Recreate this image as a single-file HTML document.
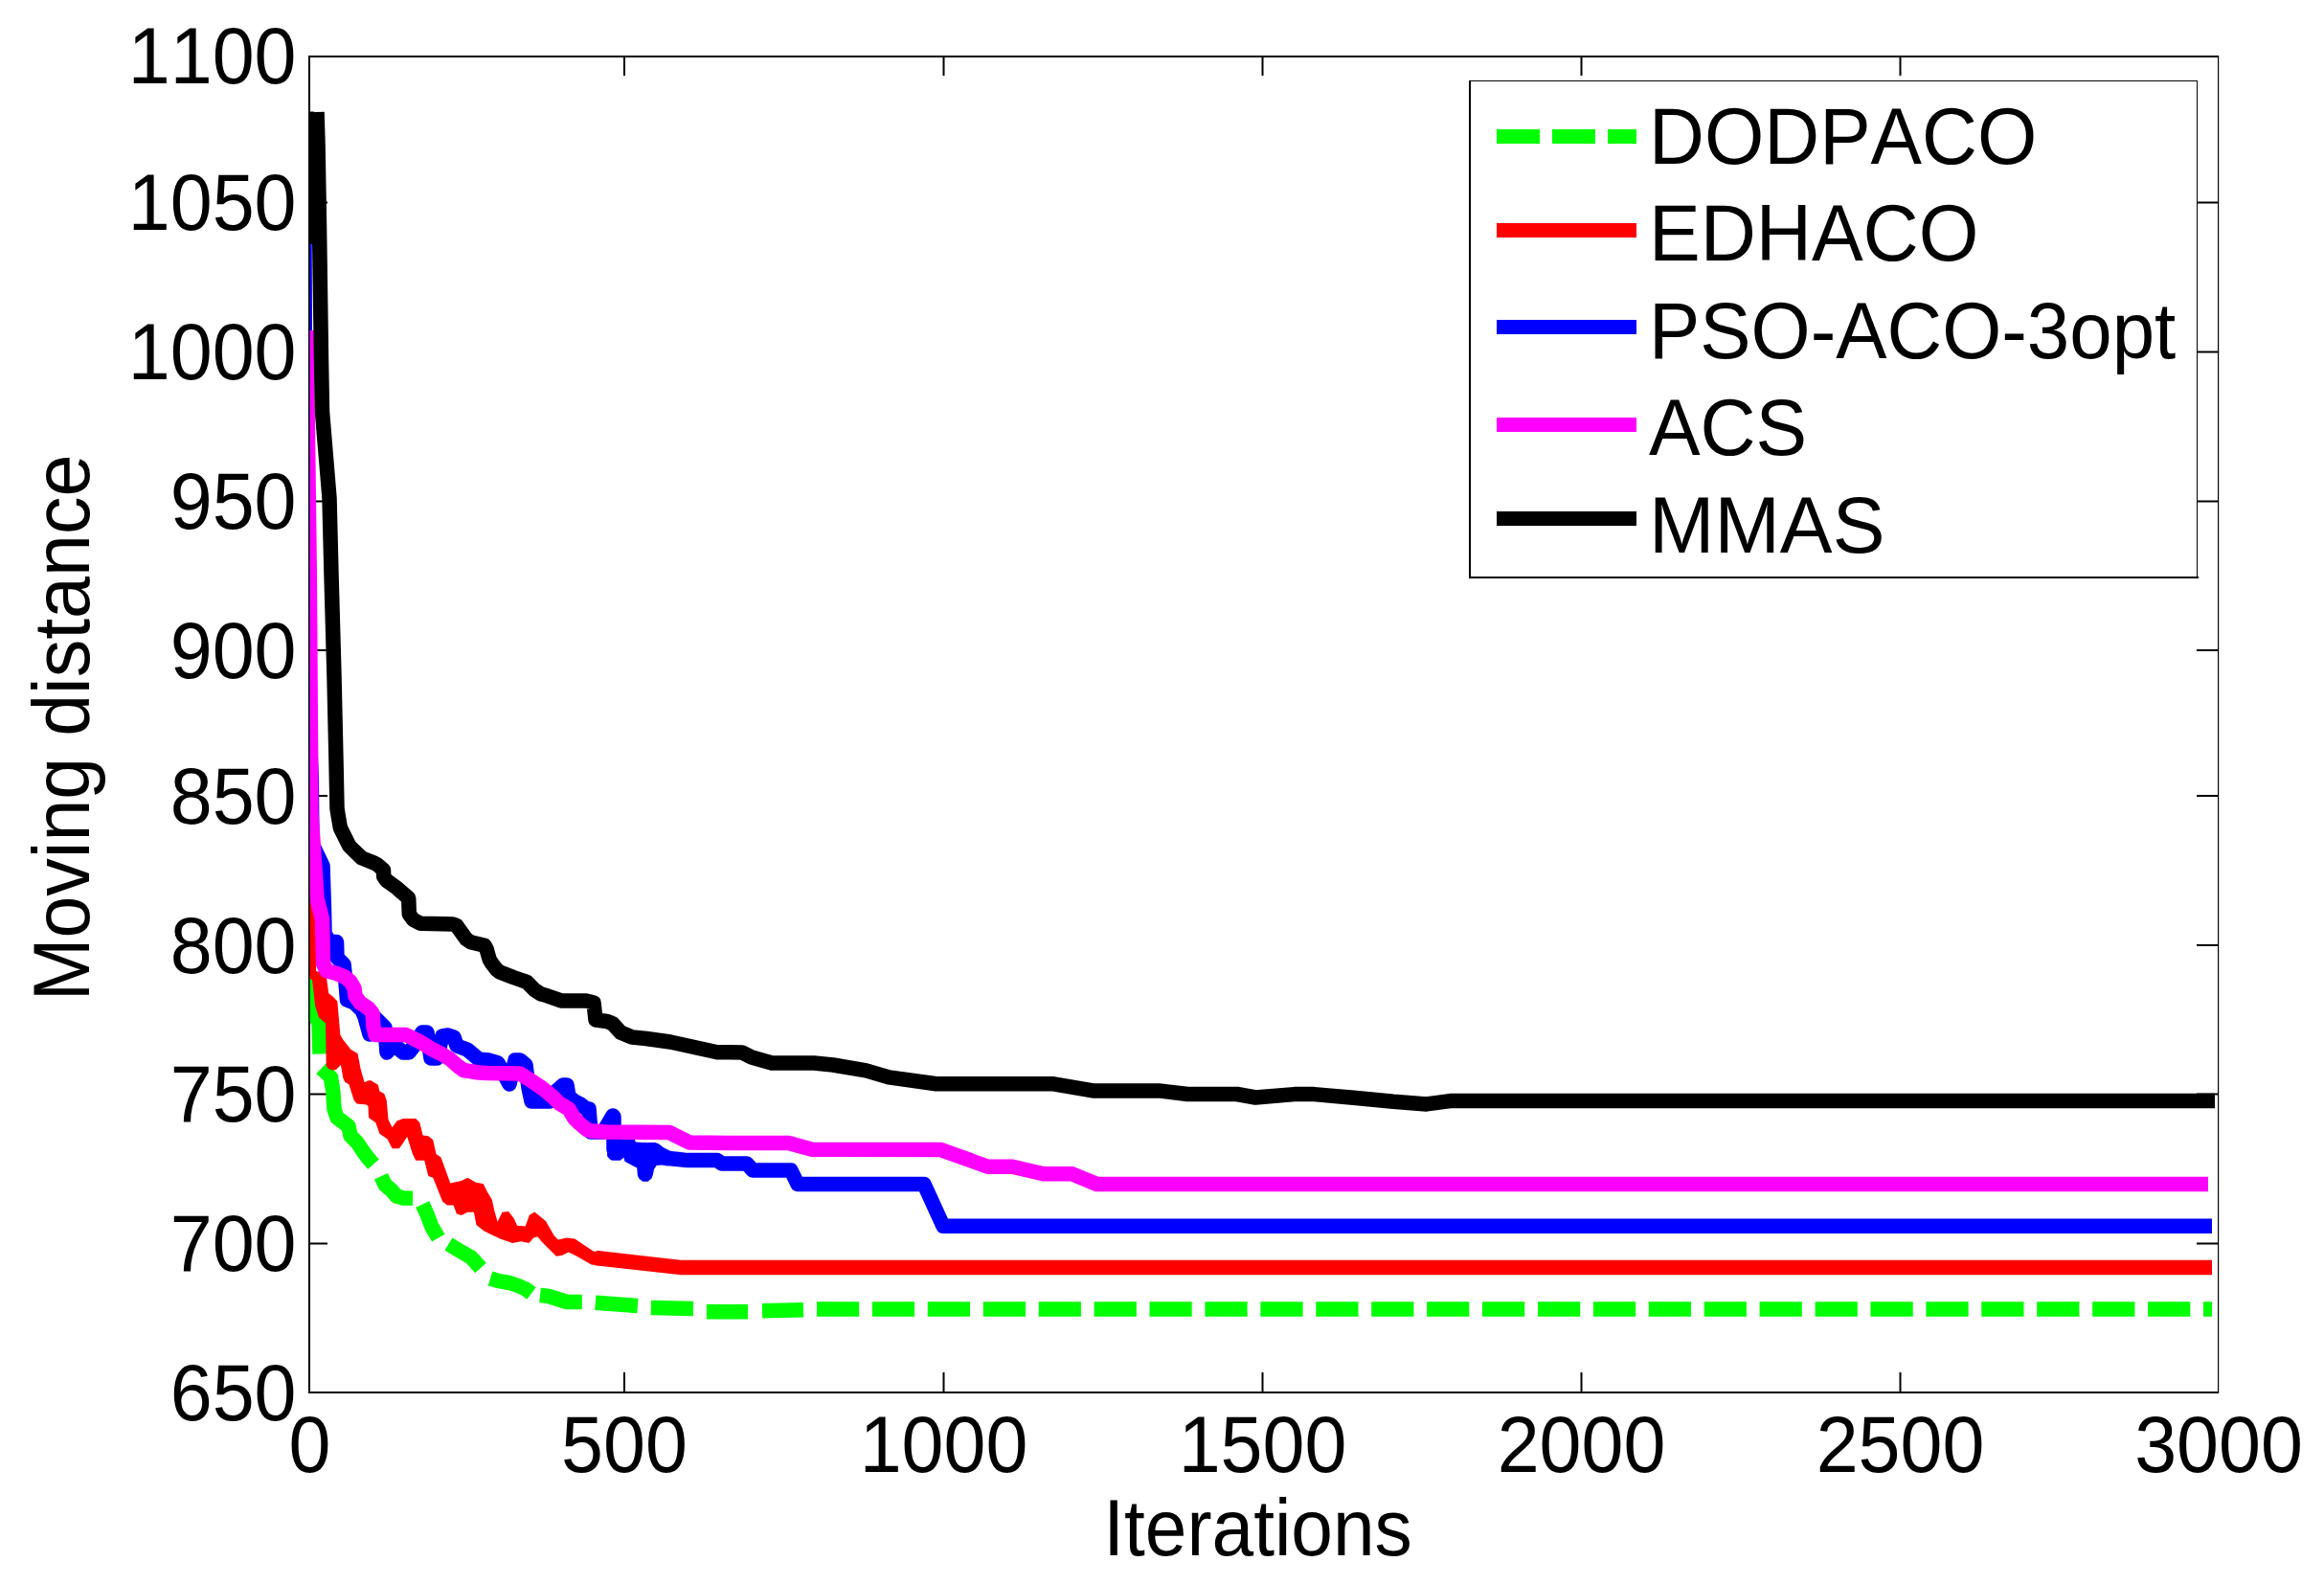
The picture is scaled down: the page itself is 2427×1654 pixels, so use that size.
<!DOCTYPE html>
<html><head><meta charset="utf-8"><title>Convergence plot</title>
<style>html,body{margin:0;padding:0;background:#fff;} svg{display:block;} text{font-family:'Liberation Sans',sans-serif;font-kerning:none;fill:#000;}</style>
</head><body>
<svg width="2427" height="1654" viewBox="0 0 2427 1654">
<rect x="0" y="0" width="2427" height="1654" fill="#fff"/>
<defs><clipPath id="ax"><rect x="323.6" y="60" width="1992.4" height="1393"/></clipPath></defs>

<g fill="#000">
<rect x="322" y="58" width="1995" height="2"/>
<rect x="322" y="1453" width="1995" height="2"/>
<rect x="322" y="58" width="2" height="1397"/>
<rect x="2316" y="58" width="1.2" height="1397"/>
<rect x="651.0" y="60" width="2" height="19"/>
<rect x="651.0" y="1433" width="2" height="20"/>
<rect x="984.5" y="60" width="2" height="19"/>
<rect x="984.5" y="1433" width="2" height="20"/>
<rect x="1317.5" y="60" width="2" height="19"/>
<rect x="1317.5" y="1433" width="2" height="20"/>
<rect x="1650.5" y="60" width="2" height="19"/>
<rect x="1650.5" y="1433" width="2" height="20"/>
<rect x="1983.5" y="60" width="2" height="19"/>
<rect x="1983.5" y="1433" width="2" height="20"/>
<rect x="324" y="210.5" width="18" height="2"/>
<rect x="2294" y="210.5" width="22" height="2"/>
<rect x="324" y="366.5" width="18" height="2"/>
<rect x="2294" y="366.5" width="22" height="2"/>
<rect x="324" y="522.5" width="18" height="2"/>
<rect x="2294" y="522.5" width="22" height="2"/>
<rect x="324" y="678.0" width="18" height="2"/>
<rect x="2294" y="678.0" width="22" height="2"/>
<rect x="324" y="830.0" width="18" height="2"/>
<rect x="2294" y="830.0" width="22" height="2"/>
<rect x="324" y="986.0" width="18" height="2"/>
<rect x="2294" y="986.0" width="22" height="2"/>
<rect x="324" y="1141.5" width="18" height="2"/>
<rect x="2294" y="1141.5" width="22" height="2"/>
<rect x="324" y="1297.5" width="18" height="2"/>
<rect x="2294" y="1297.5" width="22" height="2"/>
</g>
<g clip-path="url(#ax)" fill="none" stroke-width="15.5" stroke-linejoin="round" stroke-linecap="butt">
<polyline points="319.7,1019.5 326.0,1055.0 333.0,1068.0 334.0,1100.5" stroke="#00ff00"/>
<polyline points="335.6,1115.5 345.5,1125.0 347.8,1140.0 349.0,1158.0 352.0,1167.0 364.0,1176.0 366.0,1186.0 373.0,1193.0 379.0,1202.0 385.0,1210.0 390.0,1215.7" stroke="#00ff00"/>
<polyline points="397.9,1228.3 402.0,1237.0 409.0,1243.0 414.0,1249.0 421.0,1251.0 431.0,1251.2" stroke="#00ff00"/>
<polyline points="441.2,1257.5 446.0,1268.0 451.0,1281.0 457.8,1292.7" stroke="#00ff00"/>
<polyline points="468.5,1299.0 480.0,1306.0 492.0,1313.0 502.0,1324.0" stroke="#00ff00"/>
<polyline points="512.0,1335.0 521.0,1337.7 532.0,1339.5 541.0,1342.5 549.0,1346.0 555.0,1350.5" stroke="#00ff00"/>
<polyline points="564.0,1352.5 573.0,1353.5 592.0,1359.5 607.8,1359.5" stroke="#00ff00"/>
<polyline points="621.8,1360.2 665.9,1363.4" stroke="#00ff00"/>
<polyline points="679.8,1365.5 724.0,1366.6" stroke="#00ff00"/>
<polyline points="737.9,1369.8 781.0,1369.8" stroke="#00ff00"/>
<polyline points="796.0,1368.8 839.0,1367.7" stroke="#00ff00"/>
<polyline points="853.0,1367.0 897.2,1367.0" stroke="#00ff00"/>
<polyline points="910.9,1367.0 955.1,1367.0" stroke="#00ff00"/>
<polyline points="968.8,1367.0 1013.0,1367.0" stroke="#00ff00"/>
<polyline points="1026.8,1367.0 1071.0,1367.0" stroke="#00ff00"/>
<polyline points="1084.7,1367.0 1128.9,1367.0" stroke="#00ff00"/>
<polyline points="1142.6,1367.0 1186.8,1367.0" stroke="#00ff00"/>
<polyline points="1200.5,1367.0 1244.7,1367.0" stroke="#00ff00"/>
<polyline points="1258.4,1367.0 1302.6,1367.0" stroke="#00ff00"/>
<polyline points="1316.4,1367.0 1360.6,1367.0" stroke="#00ff00"/>
<polyline points="1374.3,1367.0 1418.5,1367.0" stroke="#00ff00"/>
<polyline points="1432.2,1367.0 1476.4,1367.0" stroke="#00ff00"/>
<polyline points="1490.1,1367.0 1534.3,1367.0" stroke="#00ff00"/>
<polyline points="1548.0,1367.0 1592.2,1367.0" stroke="#00ff00"/>
<polyline points="1606.0,1367.0 1650.2,1367.0" stroke="#00ff00"/>
<polyline points="1663.9,1367.0 1708.1,1367.0" stroke="#00ff00"/>
<polyline points="1721.8,1367.0 1766.0,1367.0" stroke="#00ff00"/>
<polyline points="1779.7,1367.0 1823.9,1367.0" stroke="#00ff00"/>
<polyline points="1837.6,1367.0 1881.8,1367.0" stroke="#00ff00"/>
<polyline points="1895.6,1367.0 1939.8,1367.0" stroke="#00ff00"/>
<polyline points="1953.5,1367.0 1997.7,1367.0" stroke="#00ff00"/>
<polyline points="2011.4,1367.0 2055.6,1367.0" stroke="#00ff00"/>
<polyline points="2069.3,1367.0 2113.5,1367.0" stroke="#00ff00"/>
<polyline points="2127.2,1367.0 2171.4,1367.0" stroke="#00ff00"/>
<polyline points="2185.2,1367.0 2229.4,1367.0" stroke="#00ff00"/>
<polyline points="2243.1,1367.0 2287.3,1367.0" stroke="#00ff00"/>
<polyline points="2301.0,1367.0 2310.0,1367.0" stroke="#00ff00"/>
<polyline points="622.0,1313.5 712.1,1323.6 2310.0,1323.6" stroke="#ff0000"/>
<polygon points="318.0,942.0 330.0,942.0 330.0,1014.0 338.0,1016.0 341.2,1022.0 343.2,1037.3 347.3,1040.3 352.3,1045.4 355.4,1080.7 358.4,1085.8 366.5,1095.9 373.5,1099.9 376.6,1116.0 380.6,1130.2 384.6,1128.2 387.4,1128.2 394.8,1132.8 396.4,1139.4 401.3,1141.9 403.8,1149.3 405.5,1169.0 409.6,1177.2 414.5,1170.6 421.0,1168.1 434.2,1168.1 438.3,1172.2 441.6,1185.4 447.3,1186.2 452.2,1190.3 455.5,1205.1 460.5,1208.4 470.3,1235.5 481.8,1233.0 488.4,1229.7 496.6,1234.6 504.8,1236.3 508.9,1244.5 513.8,1252.7 516.3,1264.2 519.6,1275.7 524.5,1265.8 531.1,1265.0 536.8,1272.4 540.1,1279.8 548.6,1280.6 552.9,1268.7 558.3,1265.5 570.1,1275.2 578.7,1290.2 583.0,1294.5 591.6,1292.4 600.2,1293.5 619.6,1306.4 626.0,1307.5 626.0,1321.5 617.5,1320.4 602.4,1311.8 593.8,1307.5 587.3,1310.7 580.9,1311.8 565.8,1296.7 561.5,1291.3 557.2,1292.4 552.4,1297.9 544.2,1296.2 535.2,1297.9 522.9,1293.8 505.6,1285.5 497.4,1279.0 494.9,1265.8 488.4,1265.8 481.8,1269.1 476.9,1267.5 473.6,1258.5 467.0,1258.5 462.1,1254.4 452.2,1229.7 447.3,1228.1 443.2,1211.7 434.2,1211.7 430.9,1205.1 425.2,1187.0 421.0,1193.6 416.9,1199.3 409.6,1199.3 404.6,1189.5 396.4,1183.7 392.3,1172.2 385.0,1167.0 384.5,1155.0 382.6,1153.4 372.5,1152.4 369.5,1148.4 364.4,1132.2 360.4,1130.0 358.4,1126.0 355.9,1112.0 351.0,1117.0 347.3,1117.6 343.0,1116.0 340.7,1113.0 340.0,1068.6 333.0,1062.5 329.0,1050.0 326.0,1023.0 318.0,1020.0" fill="#ff0000" stroke="none"/>
<polyline points="318.0,255.0 319.0,600.0 323.0,760.0 325.3,813.0 325.6,850.0 326.0,881.0 337.0,904.0 338.5,950.0 339.0,975.0 344.0,983.5 351.5,983.5 352.0,1000.0 359.0,1007.0 360.5,1020.0 362.5,1044.0 370.0,1047.0 378.0,1055.0 381.0,1062.0 386.0,1080.0 392.0,1063.0 402.0,1073.0 404.0,1099.0 409.0,1093.0 414.0,1093.0 421.0,1099.0 427.0,1099.0 434.0,1090.0 441.0,1078.0 446.0,1078.0 450.0,1105.0 456.0,1105.0 462.0,1082.0 468.0,1081.0 474.0,1083.0 477.0,1092.0 488.0,1096.0 500.0,1106.0 510.0,1107.0 520.0,1110.0 532.0,1132.0 538.0,1107.0 543.0,1107.0 549.0,1112.0 552.0,1136.0 555.0,1150.0 574.0,1150.0 580.0,1140.0 588.0,1133.0 592.0,1133.0 594.0,1145.0 600.0,1150.0 606.0,1153.0 612.0,1157.5 615.0,1158.0 617.0,1182.0 630.0,1182.0 640.0,1165.0 641.0,1166.0 641.0,1200.0 660.0,1200.0 674.0,1201.0 684.0,1201.0 689.0,1205.0 698.0,1209.5 708.0,1210.5 718.0,1211.6 749.0,1211.6 754.0,1215.0 780.0,1215.0 786.0,1222.0 826.0,1222.0 833.0,1236.5 965.0,1236.5 985.0,1280.3 2310.0,1280.3" stroke="#0000ff"/>
<polygon points="634.1,1189.8 662.9,1189.8 664.4,1194.4 667.4,1192.9 673.5,1192.9 675.8,1194.0 678.0,1192.9 684.1,1192.9 687.9,1196.7 689.0,1200.8 697.7,1201.2 697.7,1217.5 690.9,1216.4 685.6,1217.1 683.0,1220.9 681.8,1227.0 680.3,1230.8 676.5,1233.8 671.2,1233.8 667.4,1230.8 665.9,1227.7 665.2,1219.4 656.1,1214.8 652.3,1212.6 651.5,1208.8 647.7,1211.8 639.4,1211.8 637.1,1210.7 634.1,1207.3" fill="#0000ff" stroke="none"/>
<polyline points="320.0,345.0 320.5,380.0 323.3,600.0 325.0,850.0 331.0,938.0 336.5,960.0 337.5,1006.0 341.0,1013.7 350.0,1016.0 360.0,1020.0 366.0,1025.0 370.0,1032.0 371.0,1040.0 376.0,1047.0 385.0,1053.0 389.0,1058.0 390.0,1072.0 392.0,1080.6 424.0,1080.6 440.0,1088.5 450.0,1095.0 462.0,1101.0 470.0,1106.0 478.0,1113.0 484.0,1117.5 500.0,1120.0 508.0,1120.5 543.0,1121.0 554.0,1128.0 566.0,1136.0 577.0,1145.0 584.0,1152.0 594.0,1158.0 600.0,1168.0 604.0,1172.0 608.0,1175.5 613.0,1179.6 618.0,1181.0 626.0,1181.6 633.0,1182.0 699.0,1182.5 720.0,1193.0 760.0,1193.5 823.5,1193.5 848.0,1200.2 982.0,1200.4 1031.5,1218.2 1057.3,1218.2 1089.6,1225.8 1119.7,1225.8 1145.5,1236.5 2306.0,1236.5" stroke="#ff00ff"/>
<polyline points="331.0,117.0 332.0,150.0 333.5,236.0 335.5,376.0 336.5,430.0 344.0,520.0 346.0,600.0 349.0,707.0 351.0,795.0 352.0,844.0 352.9,850.0 355.4,864.5 364.9,883.5 377.7,895.9 389.8,900.7 394.0,902.9 400.5,908.4 400.7,915.2 403.6,919.4 414.6,927.3 426.7,937.9 427.3,954.5 431.5,960.3 439.4,964.3 472.8,965.0 476.8,966.5 487.0,980.7 491.4,983.7 506.0,987.3 508.2,991.3 511.2,1002.0 513.9,1006.3 518.9,1012.7 521.9,1015.0 536.0,1020.5 550.0,1025.3 558.0,1033.4 565.0,1038.0 569.0,1039.0 586.0,1044.9 612.0,1045.0 620.0,1047.0 622.0,1065.0 634.0,1066.5 640.0,1069.0 648.0,1078.0 660.0,1083.0 675.0,1084.5 700.0,1088.0 749.0,1098.7 775.0,1099.0 785.0,1104.0 806.0,1110.0 850.0,1110.0 870.0,1112.0 904.5,1117.8 928.2,1124.9 977.7,1131.8 1100.3,1131.8 1141.2,1138.9 1210.0,1138.9 1240.2,1142.5 1291.8,1142.5 1311.2,1146.0 1351.6,1142.6 1372.3,1142.6 1416.2,1146.5 1455.0,1150.3 1489.8,1152.9 1514.3,1149.6 2313.0,1149.6" stroke="#000000"/>
<polyline points="320.0,116.5 320.0,255.0" stroke="#000000"/>
</g>
<text transform="translate(309.5,87.3) scale(1.0,1.05)" text-anchor="end" style="font-size:79px">1100</text>
<text transform="translate(309.5,240.3) scale(1.0,1.05)" text-anchor="end" style="font-size:79px">1050</text>
<text transform="translate(309.5,396.3) scale(1.0,1.05)" text-anchor="end" style="font-size:79px">1000</text>
<text transform="translate(309.5,552.3) scale(1.0,1.05)" text-anchor="end" style="font-size:79px">950</text>
<text transform="translate(309.5,707.8) scale(1.0,1.05)" text-anchor="end" style="font-size:79px">900</text>
<text transform="translate(309.5,859.8) scale(1.0,1.05)" text-anchor="end" style="font-size:79px">850</text>
<text transform="translate(309.5,1015.8) scale(1.0,1.05)" text-anchor="end" style="font-size:79px">800</text>
<text transform="translate(309.5,1171.3) scale(1.0,1.05)" text-anchor="end" style="font-size:79px">750</text>
<text transform="translate(309.5,1327.3) scale(1.0,1.05)" text-anchor="end" style="font-size:79px">700</text>
<text transform="translate(309.5,1482.8) scale(1.0,1.05)" text-anchor="end" style="font-size:79px">650</text>
<text transform="translate(323.5,1537.0) scale(1.0,1.05)" text-anchor="middle" style="font-size:79px">0</text>
<text transform="translate(652.0,1537.0) scale(1.0,1.05)" text-anchor="middle" style="font-size:79px">500</text>
<text transform="translate(985.5,1537.0) scale(1.0,1.05)" text-anchor="middle" style="font-size:79px">1000</text>
<text transform="translate(1318.5,1537.0) scale(1.0,1.05)" text-anchor="middle" style="font-size:79px">1500</text>
<text transform="translate(1651.5,1537.0) scale(1.0,1.05)" text-anchor="middle" style="font-size:79px">2000</text>
<text transform="translate(1984.5,1537.0) scale(1.0,1.05)" text-anchor="middle" style="font-size:79px">2500</text>
<text transform="translate(2317.0,1537.0) scale(1.0,1.05)" text-anchor="middle" style="font-size:79px">3000</text>
<text transform="translate(1313.5,1624.0) scale(0.993,1.05)" text-anchor="middle" style="font-size:79px">Iterations</text>
<text transform="translate(93.0,760.0) rotate(-90) scale(1.0,1.05)" text-anchor="middle" style="font-size:79px">Moving distance</text>
<rect x="1535" y="85" width="759" height="517" fill="#fff"/>
<g fill="#000">
<rect x="1534" y="84" width="761" height="1"/>
<rect x="1534" y="602" width="762" height="2"/>
<rect x="1534" y="84" width="2" height="520"/>
<rect x="2294" y="84" width="1" height="520"/>
</g>
<rect x="1563" y="135.0" width="45" height="15" fill="#00ff00"/>
<rect x="1621" y="135.0" width="45" height="15" fill="#00ff00"/>
<rect x="1679" y="135.0" width="30" height="15" fill="#00ff00"/>
<text transform="translate(1722.0,171.0) scale(1.015,1.05)" text-anchor="start" style="font-size:79px">DODPACO</text>
<rect x="1563" y="233.0" width="146" height="15" fill="#ff0000"/>
<text transform="translate(1722.0,272.0) scale(1.019,1.05)" text-anchor="start" style="font-size:79px">EDHACO</text>
<rect x="1563" y="334.0" width="146" height="15" fill="#0000ff"/>
<text transform="translate(1722.0,374.0) scale(1.011,1.05)" text-anchor="start" style="font-size:79px">PSO-ACO-3opt</text>
<rect x="1563" y="436.0" width="146" height="15" fill="#ff00ff"/>
<text transform="translate(1722.0,475.0) scale(1.017,1.05)" text-anchor="start" style="font-size:79px">ACS</text>
<rect x="1563" y="534.0" width="146" height="15" fill="#000000"/>
<text transform="translate(1722.0,577.0) scale(1.04,1.05)" text-anchor="start" style="font-size:79px">MMAS</text>
</svg></body></html>
